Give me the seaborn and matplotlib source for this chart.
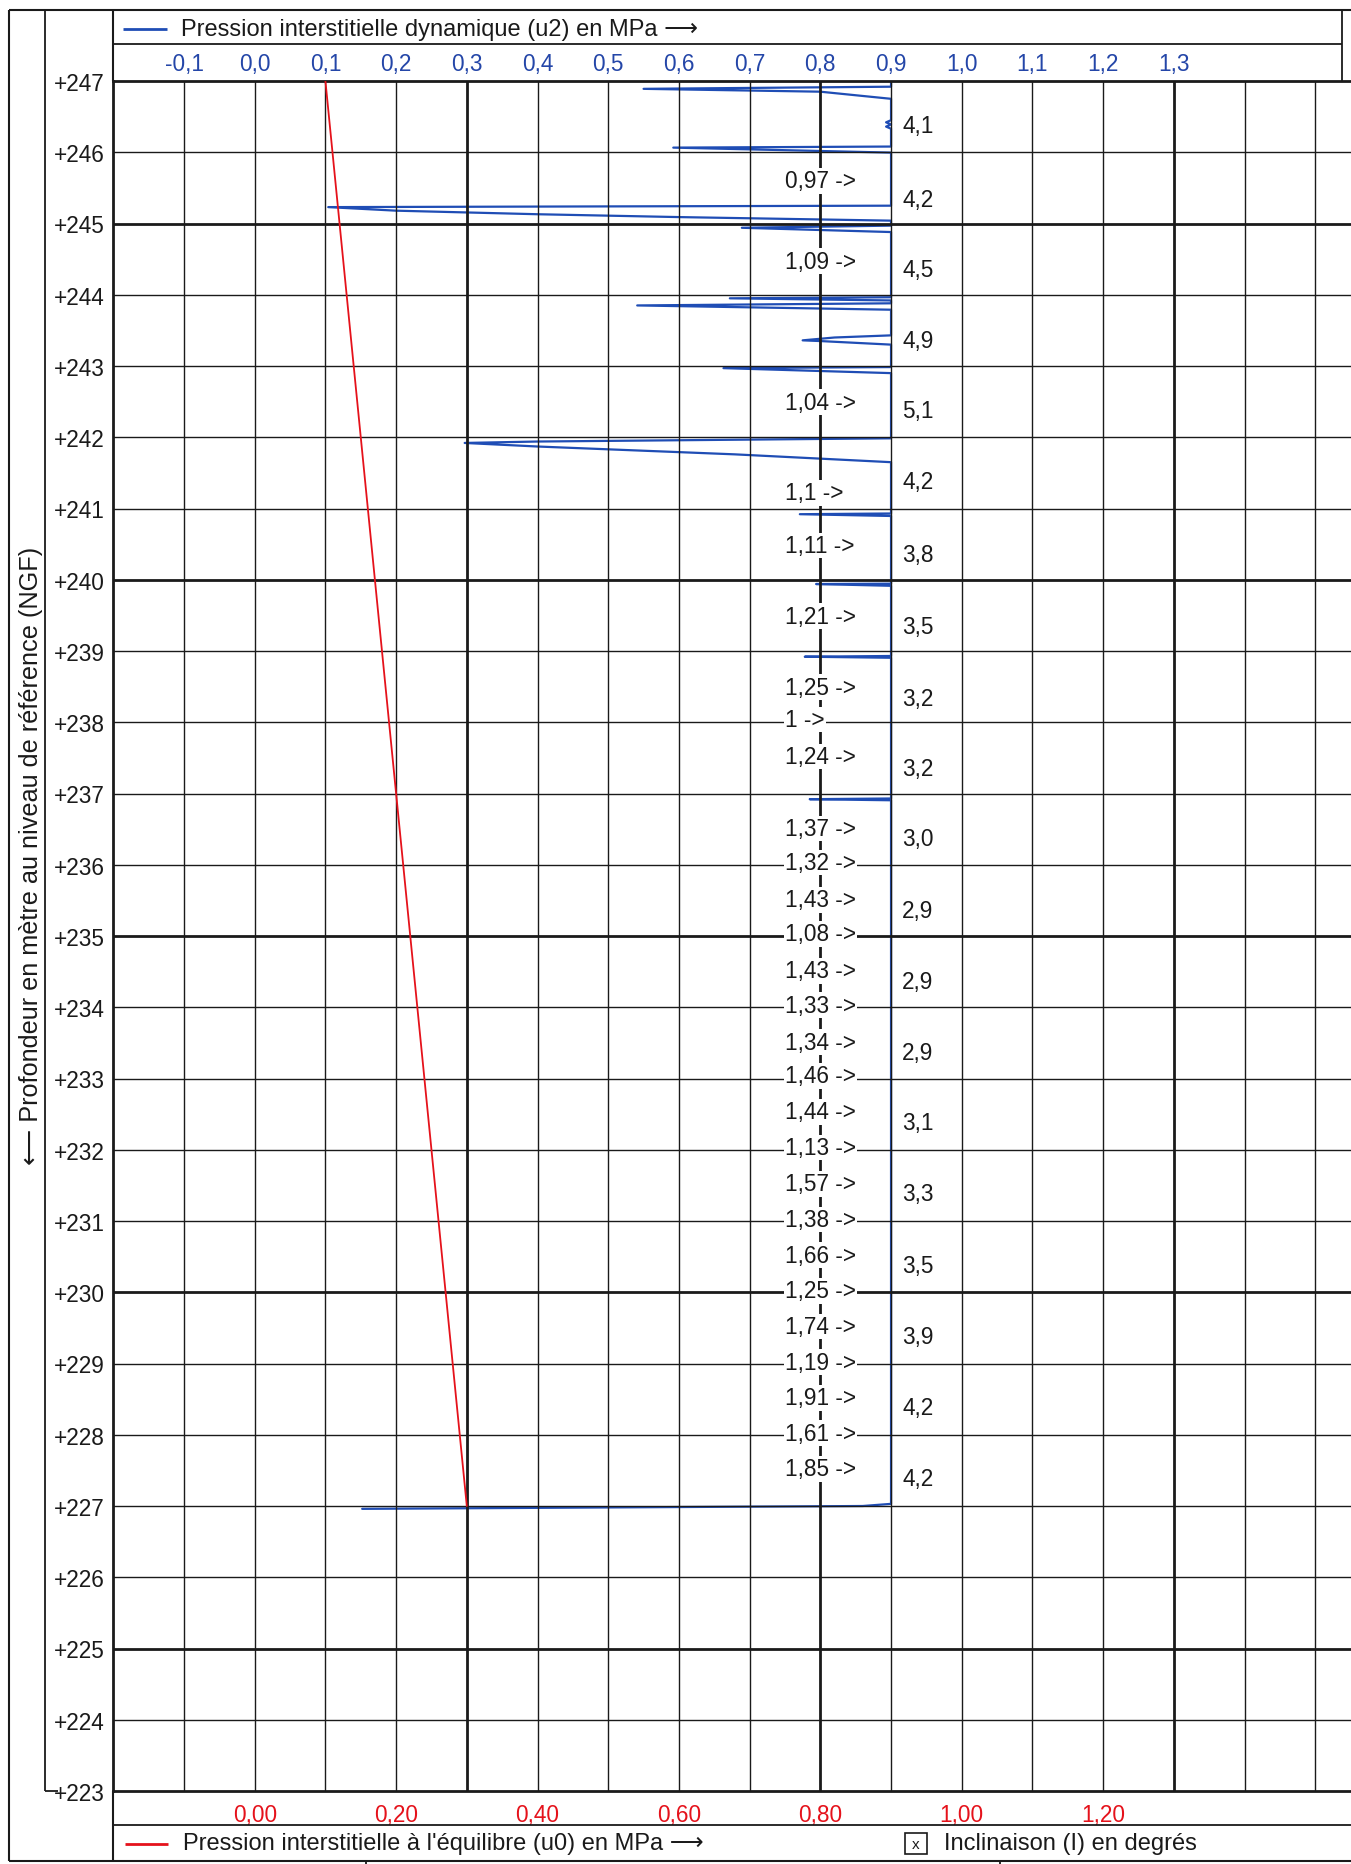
import numpy as np
import pandas as pd
import matplotlib
matplotlib.use("Agg")
import matplotlib.pyplot as plt
from matplotlib.lines import Line2D
from matplotlib.patches import Rectangle
import seaborn as sns

# ---------------- data ----------------
# dynamic pore pressure u2 trace (MPa, clipped at 0.9 on the chart) vs level (m NGF)
u2_depth = [247.00, 246.92, 246.89, 246.85, 246.75, 246.45, 246.42, 246.39, 246.36, 246.33,
            246.08, 246.065, 245.995, 245.25, 245.23, 245.18, 245.13, 245.09, 245.04, 244.97,
            244.94, 244.88, 243.965, 243.95, 243.92, 243.88, 243.85, 243.79, 243.43, 243.40,
            243.36, 243.35, 243.30, 242.985, 242.97, 242.90, 241.985, 241.94, 241.92, 241.87,
            241.76, 241.65, 240.93, 240.92, 240.895, 239.945, 239.94, 239.915, 238.93, 238.92,
            238.905, 236.93, 236.92, 236.905, 227.03, 227.00, 226.96]
u2_value = [0.90, 0.90, 0.55, 0.80, 0.90, 0.90, 0.893, 0.90, 0.893, 0.90,
            0.90, 0.592, 0.90, 0.90, 0.104, 0.20, 0.40, 0.60, 0.90, 0.90,
            0.689, 0.90, 0.90, 0.672, 0.90, 0.90, 0.541, 0.90, 0.90, 0.82,
            0.775, 0.80, 0.90, 0.90, 0.663, 0.90, 0.90, 0.40, 0.297, 0.40,
            0.679, 0.90, 0.90, 0.771, 0.90, 0.90, 0.794, 0.90, 0.90, 0.778,
            0.90, 0.90, 0.785, 0.90, 0.90, 0.86, 0.152]

# equilibrium pore pressure u0
u0_depth = [247.0, 227.0]
u0_value = [0.10, 0.30]

# off-scale u2 maxima written on the chart
max_depth = [245.60, 244.47, 242.49, 241.22, 240.48, 239.49, 238.49, 238.04, 237.52, 236.51,
             236.03, 235.51, 235.03, 234.51, 234.03, 233.51, 233.04, 232.53, 232.03, 231.52,
             231.02, 230.52, 230.02, 229.52, 229.02, 228.52, 228.02, 227.52]
max_value = [0.97, 1.09, 1.04, 1.1, 1.11, 1.21, 1.25, 1.0, 1.24, 1.37,
             1.32, 1.43, 1.08, 1.43, 1.33, 1.34, 1.46, 1.44, 1.13, 1.57,
             1.38, 1.66, 1.25, 1.74, 1.19, 1.91, 1.61, 1.85]

# inclination (degrees)
incl_depth = [246.37, 245.34, 244.35, 243.36, 242.37, 241.38, 240.36, 239.35, 238.33, 237.35,
              236.37, 235.36, 234.36, 233.36, 232.38, 231.38, 230.38, 229.38, 228.38, 227.38]
incl_value = [4.1, 4.2, 4.5, 4.9, 5.1, 4.2, 3.8, 3.5, 3.2, 3.2,
              3.0, 2.9, 2.9, 2.9, 3.1, 3.3, 3.5, 3.9, 4.2, 4.2]

u2_ticks = [-0.1, 0.0, 0.1, 0.2, 0.3, 0.4, 0.5, 0.6, 0.7, 0.8, 0.9, 1.0, 1.1, 1.2, 1.3]
u0_ticks = [0.0, 0.2, 0.4, 0.6, 0.8, 1.0, 1.2]
level_ticks = list(range(223, 248))
vgrid = [-0.1, 0.0, 0.1, 0.2, 0.3, 0.4, 0.5, 0.6, 0.7, 0.8, 0.9, 1.0, 1.1, 1.2, 1.3, 1.4, 1.5]
vgrid_bold = [0.3, 0.8, 1.3]
hgrid = list(range(224, 247))
hgrid_bold = [245, 240, 235, 230, 225]

# ---------------- style ----------------
sns.set_style("white")
plt.rcParams["font.family"] = ["Liberation Sans", "DejaVu Sans"]

BLUE = "#1f4db5"
BLUE_TXT = "#2446a8"
RED = "#e5121b"
INK = "#1a1a1a"
FS = 16.3

W, H = 1351, 1865
fig = plt.figure(figsize=(W / 100, H / 100), dpi=100)


def fx(px):
    return px / W


def fy(py):
    return 1 - py / H


def fline(x0, y0, x1, y1, lw=1.3, color=INK):
    fig.add_artist(Line2D([fx(x0), fx(x1)], [fy(y0), fy(y1)], color=color, lw=lw,
                          transform=fig.transFigure, solid_capstyle="butt"))


xl, xr = -0.2, 1.55
px_left, px_right = 113.3, 1350.6
ax = fig.add_axes([fx(px_left), fy(1792), fx(px_right) - fx(px_left), fy(82) - fy(1792)])
ax.set_xlim(xl, xr)
ax.set_ylim(223, 247)

# grid
for v in vgrid:
    ax.axvline(v, color=INK, lw=2.0 if v in vgrid_bold else 1.0, zorder=2.5)
for h in hgrid:
    ax.axhline(h, color=INK, lw=2.0 if h in hgrid_bold else 1.0, zorder=2.5)

# traces
df_u2 = pd.DataFrame({"u2": u2_value, "depth": u2_depth})
df_u0 = pd.DataFrame({"u0": u0_value, "depth": u0_depth})
sns.lineplot(data=df_u2, x="u2", y="depth", sort=False, estimator=None, ax=ax,
             color=BLUE, lw=1.6, zorder=2)
sns.lineplot(data=df_u0, x="u0", y="depth", sort=False, estimator=None, ax=ax,
             color=RED, lw=1.3, zorder=2.6)
ax.set_xlabel("")
ax.set_ylabel("")

# annotations
for v, d in zip(max_value, max_depth):
    ax.text(0.75, d, f"{v:g}".replace(".", ",") + " ->", ha="left", va="center",
            fontsize=FS, color=INK, zorder=4,
            bbox=dict(boxstyle="square,pad=0.06", fc="white", ec="none"))
for v, d in zip(incl_value, incl_depth):
    ax.annotate(f"{v:.1f}".replace(".", ","), xy=(0.9, d), xytext=(11, 0),
                textcoords="offset pixels", ha="left", va="center", fontsize=FS, color=INK)

# spines
for s in ["left", "top", "bottom"]:
    ax.spines[s].set_color(INK)
    ax.spines[s].set_linewidth(2.0)
ax.spines["right"].set_visible(False)

# top axis (u2)
ax.xaxis.set_ticks_position("top")
ax.set_xticks(u2_ticks)
ax.set_xticklabels([f"{t:.1f}".replace(".", ",") for t in u2_ticks])
ax.tick_params(axis="x", length=0, pad=4, labelsize=FS, labelcolor=BLUE_TXT)

# bottom axis (u0)
sec = ax.secondary_xaxis("bottom")
sec.set_xticks(u0_ticks)
sec.set_xticklabels([f"{t:.2f}".replace(".", ",") for t in u0_ticks])
sec.tick_params(axis="x", length=0, pad=9, labelsize=FS, labelcolor=RED)
sec.spines["bottom"].set_visible(False)

# levels
ax.set_yticks(level_ticks)
ax.set_yticklabels([f"+{t}" for t in level_ticks])
ax.tick_params(axis="y", length=0, pad=6, labelsize=FS, labelcolor=INK)

# ---------------- frame & legends ----------------
fline(9, 11, 9, 1862, lw=1.5)
fline(9, 11, 1351, 11, lw=1.5)
fline(45, 11, 45, 1792, lw=1.3)
fline(45, 1792, 58, 1792, lw=1.3)
fline(px_left, 11, px_left, 82, lw=1.5)
fline(px_left, 1792, px_left, 1862, lw=1.5)
fline(px_left, 45, 1342, 45, lw=1.3)
fline(1342, 11, 1342, 82, lw=1.3)
fline(px_left, 1826, 1351, 1826, lw=1.3)
fline(9, 1862, 1351, 1862, lw=1.5)
fline(366, 1862, 366, 1865, lw=1.3)
fline(1000, 1862, 1000, 1865, lw=1.3)

fig.text(fx(31), fy(856), "⟵ Profondeur en mètre au niveau de référence (NGF)",
         rotation=90, ha="center", va="center", fontsize=18.2, color=INK)

fline(123, 30, 167, 30, lw=2.0, color=BLUE)
fig.text(fx(181), fy(30), "Pression interstitielle dynamique (u2) en MPa ⟶",
         ha="left", va="center", fontsize=17, color=INK)

fline(125, 1845, 168, 1845, lw=2.0, color=RED)
fig.text(fx(183), fy(1844), "Pression interstitielle à l'équilibre (u0) en MPa ⟶",
         ha="left", va="center", fontsize=17, color=INK)
fig.add_artist(Rectangle((fx(905), fy(1855)), fx(22), 21 / H, fill=False, ec=INK, lw=1.2,
                         transform=fig.transFigure))
fig.text(fx(916), fy(1845), "x", ha="center", va="center", fontsize=11, color=INK)
fig.text(fx(944), fy(1844), "Inclinaison (I) en degrés",
         ha="left", va="center", fontsize=17, color=INK)

fig.savefig("out.png", dpi=100, facecolor="white")
